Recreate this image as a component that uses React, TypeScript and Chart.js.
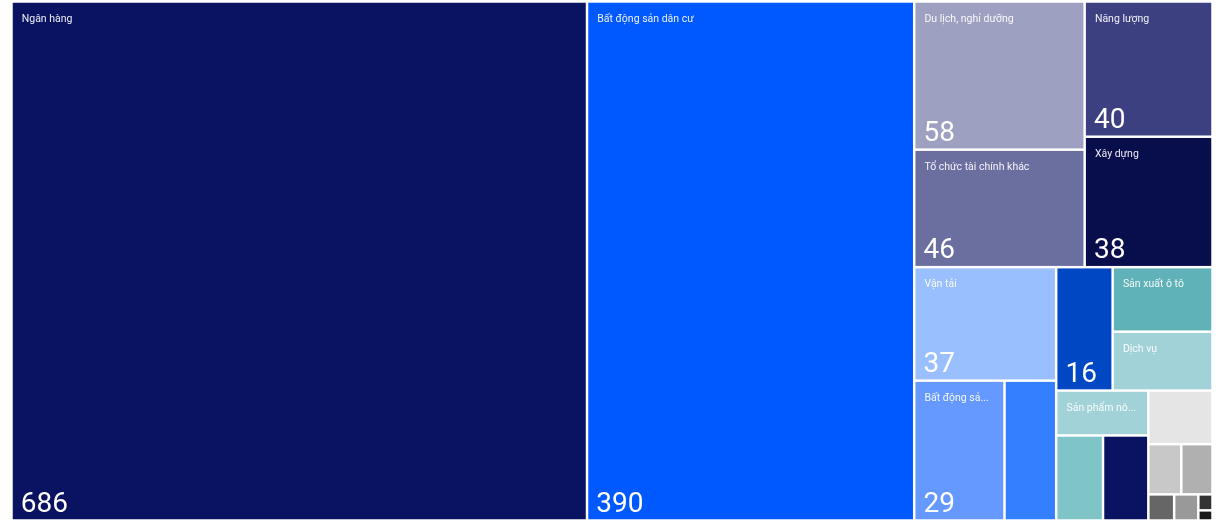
import React, { useEffect, useRef } from 'react';
import { Chart, DatasetController, Element, LinearScale } from 'chart.js';

// ---- data ----
const sectors: string[] = [
  'Ngân hàng',
  'Bất động sản dân cư',
  'Du lịch, nghỉ dưỡng',
  'Tổ chức tài chính khác',
  'Năng lượng',
  'Xây dựng',
  'Vận tải',
  'Bất động sản khu công nghiệp',
  'Thương mại',
  'Công nghiệp chế biến',
  'Sản xuất ô tô',
  'Dịch vụ',
  'Sản phẩm nông nghiệp',
  'Khai khoáng',
  'Hóa chất',
  'Dệt may',
  'Thép',
  'Công nghệ',
  'Y tế',
  'Giáo dục',
  'Viễn thông',
  'Khác',
];

const values: number[] = [
  686, 390, 58, 46, 39.7, 38.3, 37, 29, 16.6, 16, 14.8, 13.5, 9.5, 9.15, 8.85, 7.9, 3.8, 3.6, 1.55, 1.45,
  0.52, 0.33,
];

const colors: string[] = [
  '#0a1262', '#0058ff', '#9ea0c1', '#6b6fa0', '#3c4080', '#080d4b', '#99bfff', '#6599ff', '#337fff',
  '#0047c3', '#5fb3b8', '#a0d2d7', '#a0d2d7', '#7fc4c7', '#0a1262', '#e5e5e5', '#c8c8c8', '#b0b0b0',
  '#666666', '#999999', '#333333', '#1a1a1a',
];

const GAP = 2.5;
const FONT = 'Roboto, "Noto Sans", sans-serif';

type Box = { x0: number; y0: number; x1: number; y1: number };

// binary treemap tiling (same splitting rule as d3.treemapBinary)
function binaryLayout(vals: number[], X0: number, Y0: number, X1: number, Y1: number): Box[] {
  const n = vals.length;
  const sums: number[] = [0];
  for (let i = 0; i < n; i++) sums.push(sums[i] + vals[i]);
  const out: Box[] = new Array(n);
  function partition(i: number, j: number, value: number, x0: number, y0: number, x1: number, y1: number) {
    if (i >= j - 1) {
      out[i] = { x0, y0, x1, y1 };
      return;
    }
    const valueOffset = sums[i];
    const valueTarget = value / 2 + valueOffset;
    let k = i + 1;
    let hi = j - 1;
    while (k < hi) {
      const mid = (k + hi) >>> 1;
      if (sums[mid] < valueTarget) k = mid + 1;
      else hi = mid;
    }
    if (valueTarget - sums[k - 1] < sums[k] - valueTarget && i + 1 < k) --k;
    const valueLeft = sums[k] - valueOffset;
    const valueRight = value - valueLeft;
    if (x1 - x0 > y1 - y0) {
      const xk = value ? (x0 * valueRight + x1 * valueLeft) / value : x1;
      partition(i, k, valueLeft, x0, y0, xk, y1);
      partition(k, j, valueRight, xk, y0, x1, y1);
    } else {
      const yk = value ? (y0 * valueRight + y1 * valueLeft) / value : y1;
      partition(i, k, valueLeft, x0, y0, x1, yk);
      partition(k, j, valueRight, x0, yk, x1, y1);
    }
  }
  if (n) partition(0, n, sums[n], X0, Y0, X1, Y1);
  return out;
}

function fitText(ctx: CanvasRenderingContext2D, text: string, maxW: number): string {
  if (ctx.measureText(text).width <= maxW) return text;
  let t = text;
  while (t.length > 1 && ctx.measureText(t + '...').width > maxW) t = t.slice(0, -1);
  return t + '...';
}

class TreeCell extends Element {
  static id = 'treecell';
  static defaults = {};
  draw(ctx: CanvasRenderingContext2D) {
    const { x, y, w, h, color, label, valueText } = this as any;
    if (!(w > 0 && h > 0)) return;
    ctx.save();
    ctx.fillStyle = color;
    ctx.fillRect(x, y, w, h);
    ctx.textAlign = 'left';
    ctx.textBaseline = 'alphabetic';
    if (w >= 65 && h >= 28) {
      ctx.font = `10.5px ${FONT}`;
      ctx.fillStyle = 'rgba(255,255,255,0.92)';
      ctx.fillText(fitText(ctx, label, w - 19.5), x + 9, y + 19);
    }
    if (w >= 50 && h >= 90) {
      ctx.font = `28px ${FONT}`;
      ctx.fillStyle = '#ffffff';
      ctx.fillText(valueText, x + 8, y + h - 7.5);
    }
    ctx.restore();
  }
}

class TreemapController extends DatasetController {
  static id = 'treemap';
  static defaults = { datasetElementType: false, dataElementType: 'treecell' };
  static overrides = {
    scales: {
      x: { type: 'linear', display: false },
      y: { type: 'linear', display: false },
    },
  };

  parse(start: number, count: number) {
    const meta: any = (this as any)._cachedMeta;
    const data: any[] = (this as any).getDataset().data;
    for (let i = start; i < start + count; i++) meta._parsed[i] = { x: i, y: Number(data[i]) };
  }

  getMinMax() {
    return { min: 0, max: 1 };
  }

  update(mode: any) {
    const meta: any = (this as any)._cachedMeta;
    this.updateElements(meta.data, 0, meta.data.length, mode);
  }

  updateElements(cells: any[], start: number, count: number, _mode: any) {
    const self: any = this;
    const meta = self._cachedMeta;
    const xs = meta.xScale;
    const ys = meta.yScale;
    if (!xs || !ys) return;
    const X0 = xs.getPixelForValue(0);
    const X1 = xs.getPixelForValue(1);
    const Y0 = ys.getPixelForValue(1);
    const Y1 = ys.getPixelForValue(0);
    const vals: number[] = meta._parsed.map((p: any) => p.y);
    const boxes = binaryLayout(vals, X0, Y0, X1, Y1);
    const ds = self.getDataset();
    const labels: string[] = self.chart.data.labels || [];
    const g = GAP / 2;
    for (let i = start; i < start + count; i++) {
      const b = boxes[i];
      if (!b) continue;
      Object.assign(cells[i], {
        x: b.x0 + g,
        y: b.y0 + g,
        w: b.x1 - b.x0 - 2 * g,
        h: b.y1 - b.y0 - 2 * g,
        color: Array.isArray(ds.backgroundColor) ? ds.backgroundColor[i] : ds.backgroundColor,
        label: String(labels[i] ?? ''),
        valueText: String(Math.round(vals[i])),
      });
    }
  }

  draw() {
    const self: any = this;
    const ctx = self.chart.ctx;
    for (const el of self._cachedMeta.data) el.draw(ctx);
  }
}

Chart.register(TreemapController as any, TreeCell as any, LinearScale);

export default function App() {
  const ref = useRef<HTMLCanvasElement>(null);
  useEffect(() => {
    if (!ref.current) return;
    const chart = new Chart(ref.current, {
      type: 'treemap' as any,
      data: {
        labels: sectors,
        datasets: [{ data: values, backgroundColor: colors } as any],
      },
      options: {
        animation: false,
        responsive: true,
        maintainAspectRatio: false,
        events: [],
        layout: { padding: { left: 11.5, top: 1.5, right: 5.5, bottom: 0.5 } },
        scales: {
          x: { type: 'linear', display: false, min: 0, max: 1 },
          y: { type: 'linear', display: false, min: 0, max: 1 },
        },
      } as any,
    });
    return () => chart.destroy();
  }, []);
  return (
    <div style={{ position: 'fixed', left: 0, top: 0, width: 1218, height: 521, background: '#fff' }}>
      <canvas ref={ref} />
    </div>
  );
}
